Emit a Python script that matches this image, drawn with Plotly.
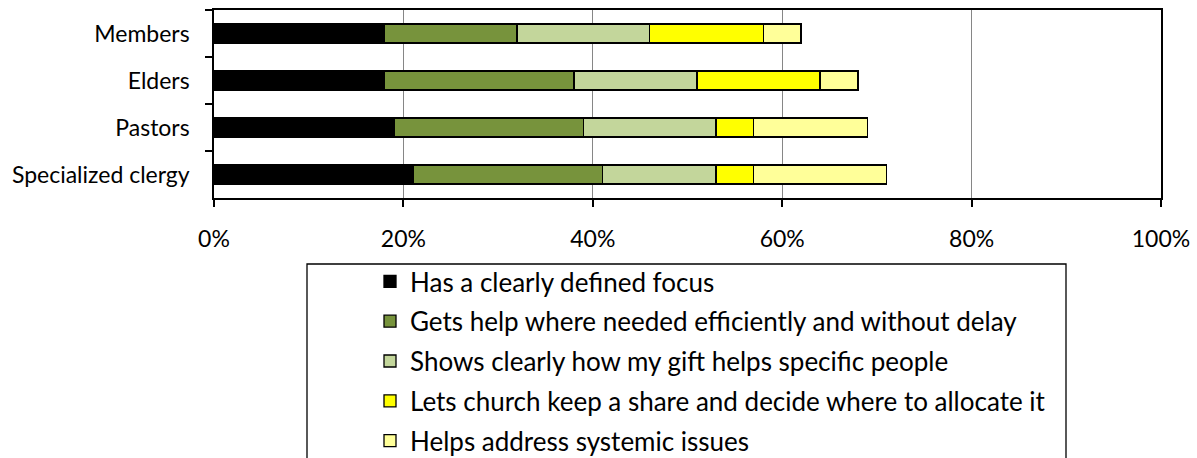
import plotly.graph_objects as go

categories = ["Members", "Elders", "Pastors", "Specialized clergy"]
series_names = [
    "Has a clearly defined focus",
    "Gets help where needed efficiently and without delay",
    "Shows clearly how my gift helps specific people",
    "Lets church keep a share and decide where to allocate it",
    "Helps address systemic issues",
]
focus = [18, 18, 19, 21]
efficient = [14, 20, 20, 20]
specific = [14, 13, 14, 12]
church_share = [12, 13, 4, 4]
systemic = [4, 4, 12, 14]
series_values = [focus, efficient, specific, church_share, systemic]
colors = ["#000000", "#77933C", "#C3D69B", "#FFFF00", "#FFFF99"]
x_ticks = [0, 20, 40, 60, 80, 100]

FONT = "Lato"
fig = go.Figure()
for i, (name, vals, col) in enumerate(zip(series_names, series_values, colors)):
    fig.add_trace(go.Bar(
        y=categories, x=vals, name=name, orientation="h",
        marker=dict(color=col, line=dict(color="#000000", width=1.3)),
        width=0.4, legendgroup=f"g{i}",
    ))

W, H = 1197, 458
L, R, T, B = 214, 36, 10, 260
pw, ph = W - L - R, H - T - B

def px_x(p):
    return (p - L) / pw

def px_y(p):
    return (H - B - p) / ph

fig.update_layout(
    width=W, height=H,
    margin=dict(l=L, r=R, t=T, b=B, pad=0, autoexpand=False),
    barmode="stack",
    plot_bgcolor="white", paper_bgcolor="white",
    font=dict(family=FONT, size=23, color="#000000"),
    showlegend=True,
    legend=dict(
        xref="container", yref="container",
        x=370 / W, y=1 - 258 / H, xanchor="left", yanchor="top",
        traceorder="grouped", tracegroupgap=3,
        font=dict(family=FONT, size=26, color="#000000"),
        bgcolor="rgba(0,0,0,0)", borderwidth=0,
        itemwidth=30,
    ),
    shapes=[dict(
        type="rect", xref="paper", yref="paper",
        x0=px_x(307), x1=px_x(1066), y0=px_y(264), y1=px_y(700),
        line=dict(color="#000000", width=1.3), fillcolor="rgba(0,0,0,0)",
    )],
)
fig.update_xaxes(
    range=[0, 100], tickvals=x_ticks, ticktext=[f"{v}%" for v in x_ticks],
    showgrid=True, gridcolor="#868686", gridwidth=1,
    showline=True, linecolor="#000000", linewidth=1.5, mirror=True,
    ticks="outside", ticklen=7, tickcolor="#000000", tickwidth=1.5,
    ticklabelstandoff=13, zeroline=False, automargin=False,
    tickfont=dict(family=FONT, size=23, color="#000000"),
)
fig.update_yaxes(
    categoryorder="array", categoryarray=categories, autorange="reversed",
    showline=True, linecolor="#000000", linewidth=1.5, mirror=True,
    ticks="outside", ticklen=7, tickcolor="#000000", tickwidth=1.5,
    tickson="boundaries", ticklabelstandoff=18, showgrid=False, automargin=False,
    tickfont=dict(family=FONT, size=23, color="#000000"),
)

fig.write_html("out.html", config={"displayModeBar": False},
               post_script="document.body.style.margin='0';")
